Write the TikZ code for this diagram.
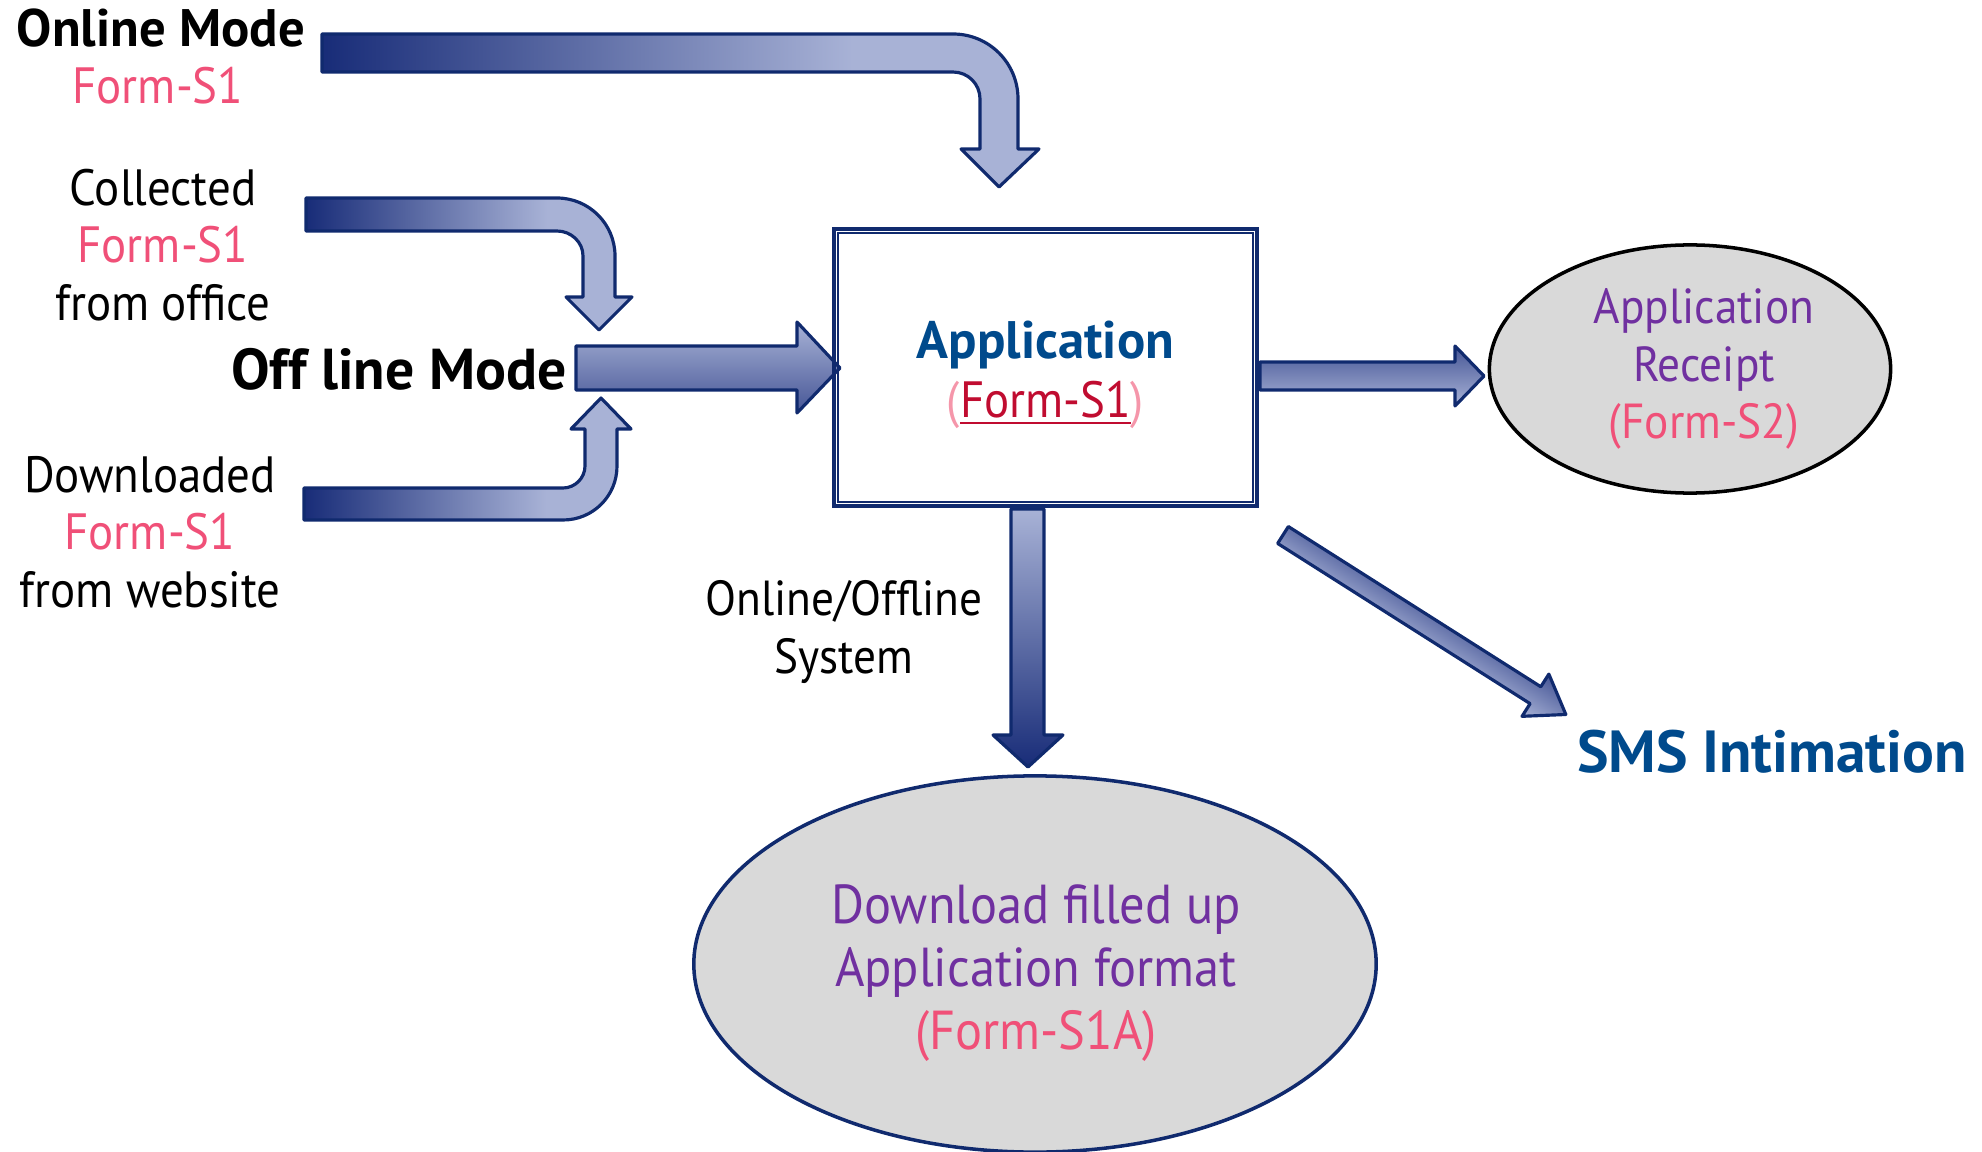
\documentclass[tikz,border=0pt]{standalone}
\usepackage{fontspec}
\setmainfont{PT Sans}[FakeStretch=0.92]
\newfontfamily\modefont{PT Sans}
\usetikzlibrary{shapes.geometric}
\definecolor{navyline}{RGB}{16,42,110}
\definecolor{shadedark}{RGB}{24,44,120}
\definecolor{shademid}{RGB}{70,86,150}
\definecolor{shadelight}{RGB}{168,178,214}
\definecolor{formpink}{RGB}{240,80,120}
\definecolor{parenpink}{RGB}{245,150,170}
\definecolor{formred}{RGB}{192,12,48}
\definecolor{textpurple}{RGB}{112,48,160}
\definecolor{textblue}{RGB}{0,74,140}
\definecolor{ovalgrey}{RGB}{217,217,217}
\pgfdeclarehorizontalshading{bendshade}{100bp}{color(0bp)=(shadedark); color(25bp)=(shadedark); color(62bp)=(shadelight); color(100bp)=(shadelight)}

\begin{document}
\begin{tikzpicture}[x=0.01cm, y=-0.01cm]
    \tikzset{txt/.style = {align=center, font=\fontsize{14.5}{16.3}\selectfont, inner sep=0pt},
             modetext/.style = {font=\modefont\bfseries\fontsize{15}{18}\selectfont, inner sep=0pt},
             blockarrow/.style = {draw=navyline, line width=0.9pt, line join=round},
             ovalbox/.style = {ellipse, fill=ovalgrey, line width=1pt, inner sep=0pt}}

    \useasboundingbox (0,0) rectangle (1982,1152);

    \node[modetext] (online) at (161,28) {Online Mode};
    \node[txt, text=formpink] (onlineform) at (158,86) {Form-S1};
    \node[txt] (collected) at (163,245) {Collected\\\textcolor{formpink}{Form-S1}\\from office};
    \node[txt] (downloaded) at (150,532) {Downloaded\\\textcolor{formpink}{Form-S1}\\from website};
    \node[modetext, font=\modefont\bfseries\fontsize{16.4}{19}\selectfont] (offline) at (399,369) {Off line Mode};
    \node[txt, font=\fontsize{14}{16.3}\selectfont] (system) at (844,632) {Online/Offline\\System};
    \node[modetext, text=textblue, font=\modefont\bfseries\fontsize{16.9}{19}\selectfont] (sms) at (1772,752) {SMS Intimation};

    \shade[blockarrow, shading=bendshade] (322,34) -- (953,34) .. controls (989,34) and (1018,63) .. (1018,99) -- (1018,149) -- (1039,149) -- (999,187) -- (961,149) -- (980,149) -- (980,99) .. controls (980,84) and (968,72) .. (953,72) -- (322,72) -- cycle;
    \shade[blockarrow, shading=bendshade] (306,198) -- (557,198) .. controls (589,198) and (615,224) .. (615,256) -- (615,297) -- (632,297) -- (599,330) -- (566,297) -- (583,297) -- (583,256) .. controls (583,242) and (571,231) .. (557,231) -- (306,231) -- cycle;
    \shade[blockarrow, shading=bendshade] (304,488) -- (563,488) .. controls (575,488) and (585,478) .. (585,466) -- (585,429) -- (571,429) -- (601,398) -- (631,429) -- (617,429) -- (617,466) .. controls (617,496) and (593,520) .. (563,520) -- (304,520) -- cycle;
    \shade[blockarrow, top color=shadelight, bottom color=shademid] (576,346) -- (797,346) -- (797,322) -- (840,368) -- (797,413) -- (797,390) -- (576,390) -- cycle;
    \shade[blockarrow, top color=shademid, bottom color=shadelight] (1260,362) -- (1455,362) -- (1455,346) -- (1484,376) -- (1455,406) -- (1455,390) -- (1260,390) -- cycle;
    \shade[blockarrow, top color=shadelight, bottom color=shadedark] (1011,509) -- (1044,509) -- (1044,735) -- (1063,735) -- (1028,767) -- (993,735) -- (1011,735) -- cycle;
    \begin{scope}[transform canvas={shift={(1283,535)}, rotate=-32.4}]
        \shade[blockarrow, top color=shademid, bottom color=shadelight] (0,-10) -- (299,-10) -- (299,-25) -- (335,0) -- (299,25) -- (299,10) -- (0,10) -- cycle;
    \end{scope}

    \node[draw=navyline, line width=1.2pt, minimum width=4.23cm, minimum height=2.77cm, inner sep=0pt] (app) at (1045.5,367.5) {};
    \draw[navyline, line width=0.5pt] ([shift={(6,6)}]app.north west) rectangle ([shift={(-6,-6)}]app.south east);
    \node[txt, font=\fontsize{14.5}{16.6}\selectfont] (apptext) at (1045.5,375)
        {{\modefont\bfseries\fontsize{15}{16.6}\selectfont\textcolor{textblue}{Application}}\\\textcolor{parenpink}{(}\textcolor{formred}{\underline{Form-S1}}\textcolor{parenpink}{)}};

    \node[ovalbox, draw=black, minimum width=4.01cm, minimum height=2.48cm] (receipt) at (1690,369) {};
    \node[txt, text=textpurple, font=\fontsize{14}{16.4}\selectfont] (receipttext) at (1704,369)
        {Application\\Receipt\\\textcolor{formpink}{(Form-S2)}};
    \node[ovalbox, draw=navyline, minimum width=6.82cm, minimum height=3.76cm] (download) at (1035,964) {};
    \node[txt, text=textpurple, font=\fontsize{15.6}{18}\selectfont] (downloadtext) at (1036,973)
        {Download filled up\\Application format\\\textcolor{formpink}{(Form-S1A)}};
\end{tikzpicture}
\end{document}
